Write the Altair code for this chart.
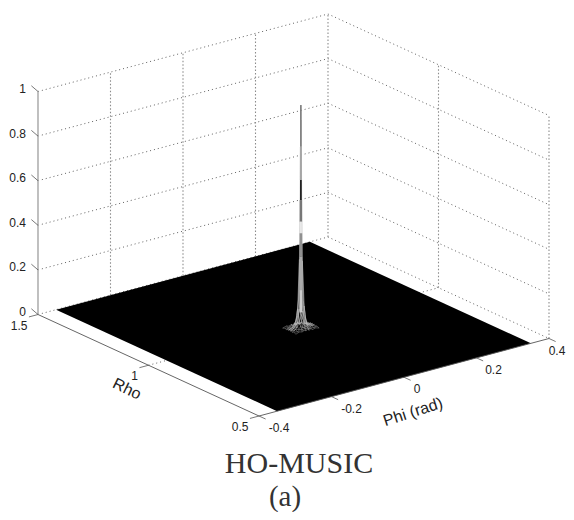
import altair as alt
import numpy as np
import pandas as pd

# ---- axis values and labels ----
z_ticks = [0, 0.2, 0.4, 0.6, 0.8, 1]
z_labels = ["0", "0.2", "0.4", "0.6", "0.8", "1"]
phi_ticks = [-0.4, -0.2, 0, 0.2, 0.4]
phi_labels = ["-0.4", "-0.2", "0", "0.2", "0.4"]
rho_ticks = [0.5, 1, 1.5]
rho_labels = ["0.5", "1", "1.5"]
phi_grid = [-0.2, 0, 0.2]
rho_grid = [1]

# ---- floor of the surface ----
surface_phi = [-0.35, 0.35]
surface_rho = [0.5, 1.5]

# ---- peak mesh ----
peak_phi = 0.007
peak_rho = 0.978
mesh_dphi = [-0.032, -0.022, -0.014, -0.009, -0.004, 0, 0.004, 0.009, 0.014, 0.022, 0.032]
mesh_drho = [-0.030, -0.020, -0.013, -0.008, -0.004, 0, 0.004, 0.008, 0.013, 0.020, 0.030]
mesh_z = [
    [0.000, 0.006, 0.002, 0.008, 0.003, 0.010, 0.002, 0.007, 0.001, 0.005, 0.000],
    [0.005, 0.002, 0.009, 0.004, 0.015, 0.007, 0.014, 0.003, 0.008, 0.002, 0.004],
    [0.001, 0.010, 0.005, 0.018, 0.010, 0.026, 0.012, 0.016, 0.004, 0.009, 0.001],
    [0.007, 0.003, 0.016, 0.040, 0.058, 0.080, 0.055, 0.036, 0.013, 0.003, 0.006],
    [0.002, 0.011, 0.009, 0.062, 0.135, 0.300, 0.125, 0.058, 0.008, 0.010, 0.002],
    [0.008, 0.004, 0.020, 0.090, 0.310, 1.000, 0.300, 0.095, 0.018, 0.004, 0.007],
    [0.002, 0.010, 0.008, 0.058, 0.130, 0.290, 0.140, 0.060, 0.010, 0.011, 0.003],
    [0.006, 0.003, 0.014, 0.034, 0.052, 0.082, 0.060, 0.038, 0.015, 0.004, 0.006],
    [0.001, 0.009, 0.004, 0.016, 0.009, 0.024, 0.011, 0.017, 0.005, 0.008, 0.001],
    [0.004, 0.002, 0.008, 0.003, 0.013, 0.006, 0.014, 0.004, 0.009, 0.002, 0.003],
    [0.000, 0.005, 0.001, 0.007, 0.002, 0.009, 0.003, 0.006, 0.001, 0.004, 0.000],
]
# shades along the central strand, top to bottom
spine_z = [1.0, 0.933, 0.813, 0.664, 0.574, 0.477, 0.425, 0.32, 0.17, 0.07]
spine_shade = ["#555555", "#777777", "#a5a5a5", "#1a1a1a", "#777777", "#e8e8e8", "#909090", "#aaaaaa", "#cccccc"]
spine_width = [1.0, 1.5, 2.0, 1.7, 2.4, 1.8, 2.6, 2.8, 2.6]


def proj(phi, rho, z=0.0):
    """Orthographic view of the 3-D axes box."""
    t = (np.asarray(phi, float) + 0.4) / 0.8
    r = np.asarray(rho, float) - 0.5
    return 259 + 290 * t - 221 * r, 416 - 77.5 * t - 101.5 * r - 223 * np.asarray(z, float)


def seg(rows):
    """rows: list of polylines of (phi, rho, z)."""
    out = []
    for i, line in enumerate(rows):
        for j, (p, r, z) in enumerate(line):
            px, py = proj(p, r, z)
            out.append({"px": float(px), "py": float(py), "id": i, "i": j})
    return pd.DataFrame(out)


X = alt.X("px:Q", axis=None, scale=alt.Scale(domain=[8, 566], nice=False, zero=False))
Y = alt.Y("py:Q", axis=None, scale=alt.Scale(domain=[512, 8], nice=False, zero=False))


def lines(rows, color, width, dash=None):
    style = {"color": color, "strokeWidth": width}
    if dash:
        style["strokeDash"] = dash
    return alt.Chart(seg(rows)).mark_line(**style).encode(x=X, y=Y, detail="id:N", order="i:Q")


# walls
wall_h = []
for z in z_ticks:
    wall_h.append([(-0.4, 1.5, z), (0.4, 1.5, z), (0.4, 0.5, z)])
wall_v = [[(p, 1.5, 0), (p, 1.5, 1)] for p in phi_grid + [0.4]]
wall_v += [[(0.4, r, 0), (0.4, r, 1)] for r in rho_grid + [0.5]]
floor_grid = [[(p, 0.5, 0), (p, 1.5, 0)] for p in phi_grid]
floor_grid += [[(-0.4, r, 0), (0.4, r, 0)] for r in rho_grid]

grid_h = lines(wall_h, "#444444", 0.85, [1, 3])
grid_v = lines(wall_v, "#8c8c8c", 1.1, [1.5, 2])
grid_f = lines(floor_grid, "#444444", 0.85, [1, 3])

# black floor
lx, ly = proj(surface_phi[0], surface_rho[1])
fx, fy = proj(surface_phi[0], surface_rho[0])
bx, by = proj(surface_phi[1], surface_rho[1])
rx, ry = proj(surface_phi[1], surface_rho[0])
xs = [float(lx), float(fx), float(bx), float(rx)]
floor_df = pd.DataFrame({
    "px": xs,
    "py": np.interp(xs, [lx, bx, rx], [ly, by, ry]),
    "py2": np.interp(xs, [lx, fx, rx], [ly, fy, ry]),
})
floor = alt.Chart(floor_df).mark_area(color="#000000", opacity=1).encode(x=X, y=Y, y2="py2:Q")

# axes and ticks
axis_lines = lines([[(-0.4, 1.5, 0), (-0.4, 0.5, 0), (0.4, 0.5, 0)]], "#555555", 0.9)
z_axis = lines([[(-0.4, 1.5, 0), (-0.4, 1.5, 1)]], "#b0b0b0", 1.6)

ticks = []
for z in z_ticks:
    ticks.append([(-0.4, 1.5, z), (-0.4, 1.53, z + 0.012)])
for r in rho_ticks:
    ticks.append([(-0.4, r, 0), (-0.425, r, 0)])
for p in phi_ticks:
    ticks.append([(p, 0.5, 0), (p, 0.47, 0)])
tick_lines = lines(ticks, "#555555", 0.8)

# peak mesh: faint outer lines, brighter lines through the trunk
outer_rows, inner_rows = [], []
for a, dr in enumerate(mesh_drho):
    row = [(peak_phi + dp, peak_rho + dr, mesh_z[a][b]) for b, dp in enumerate(mesh_dphi)]
    (inner_rows if abs(dr) <= 0.008 else outer_rows).append(row)
for b, dp in enumerate(mesh_dphi):
    row = [(peak_phi + dp, peak_rho + dr, mesh_z[a][b]) for a, dr in enumerate(mesh_drho)]
    (inner_rows if abs(dp) <= 0.009 else outer_rows).append(row)
mesh_outer = lines(outer_rows, "#8a8a8a", 0.5)
mesh_inner = lines(inner_rows, "#bdbdbd", 0.55)

spine_rows = []
for k, shade in enumerate(spine_shade):
    for j, z in enumerate([spine_z[k], spine_z[k + 1]]):
        px, py = proj(peak_phi, peak_rho, z)
        spine_rows.append({"px": float(px), "py": float(py), "id": k, "i": j, "c": shade, "w": spine_width[k]})
spine = alt.Chart(pd.DataFrame(spine_rows)).mark_line(strokeCap="butt").encode(
    x=X, y=Y, detail="id:N", order="i:Q",
    color=alt.Color("c:N", scale=None),
    strokeWidth=alt.StrokeWidth("w:Q", scale=None),
)


# tick labels
def labels(vals, txts, fn, align):
    rows = []
    for v, t in zip(vals, txts):
        x, y = fn(v, t)
        rows.append({"px": float(x), "py": float(y), "t": t})
    return alt.Chart(pd.DataFrame(rows)).mark_text(
        align=align, baseline="middle", font="Liberation Sans", fontSize=12, color="#222222"
    ).encode(x=X, y=Y, text="t:N")


def z_pos(v, t):
    x, y = proj(-0.4, 1.5, v)
    return x - 12, y - 2.5


def rho_pos(v, t):
    x, y = proj(-0.4, v, 0)
    return x - 10.5, y + 11


def phi_pos(v, t):
    x, y = proj(v, 0.5, 0)
    return x + {"-0.4": 20, "-0.2": 20, "0": 13, "0.2": 17, "0.4": 8}[t], y + 12


z_text = labels(z_ticks, z_labels, z_pos, "right")
rho_text = labels(rho_ticks, rho_labels, rho_pos, "right")
phi_text = labels(phi_ticks, phi_labels, phi_pos, "center")


def one_text(txt, x, y, size, **style):
    return alt.Chart(pd.DataFrame({"px": [x], "py": [y], "t": [txt]})).mark_text(
        fontSize=size, **style
    ).encode(x=X, y=Y, text="t:N")


rho_title = one_text("Rho", 127, 389, 16, align="center", baseline="middle", angle=26,
                     font="Liberation Sans", color="#222222")
phi_title = one_text("Phi (rad)", 413, 412, 16, align="center", baseline="middle", angle=342,
                     font="Liberation Sans", color="#222222")
caption = one_text("HO-MUSIC", 299, 473, 30, align="center", baseline="alphabetic",
                   font="Liberation Serif", color="#333333")
sub = one_text("(a)", 285, 506, 29, align="center", baseline="alphabetic",
               font="Liberation Serif", color="#333333")

chart = alt.layer(
    grid_f, grid_h, grid_v, floor, axis_lines, z_axis, tick_lines, mesh_outer, mesh_inner, spine,
    z_text, rho_text, phi_text, rho_title, phi_title, caption, sub,
).properties(
    width=558, height=504, padding=0, background="#ffffff",
    autosize=alt.AutoSizeParams(type="none"),
).configure_view(stroke=None)

chart.save("out.html", embed_options={"renderer": "svg", "actions": False})
